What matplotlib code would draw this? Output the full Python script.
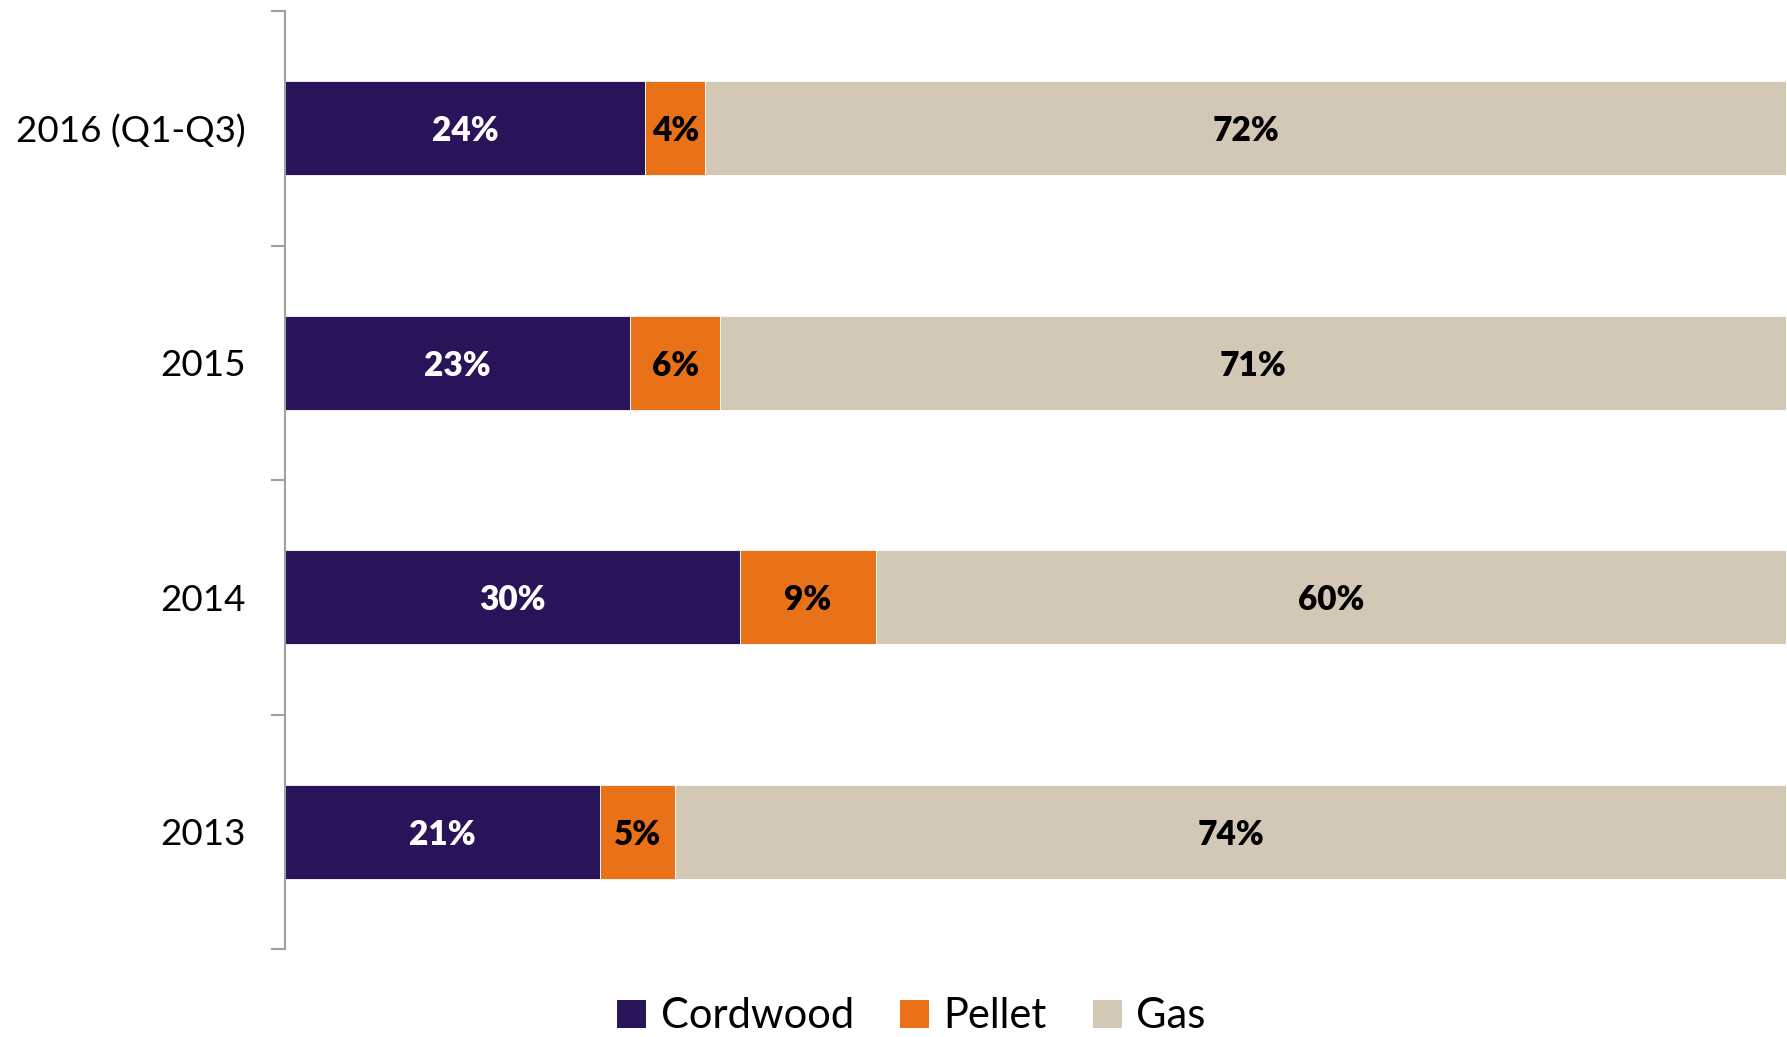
import numpy as np
import matplotlib.pyplot as plt
from matplotlib.patches import Patch

years = ['2016 (Q1-Q3)', '2015', '2014', '2013']
series = ['Cordwood', 'Pellet', 'Gas']
cordwood = [24, 23, 30, 21]
pellet = [4, 6, 9, 5]
gas = [72, 71, 60, 74]
colors = ['#2A1459', '#E97117', '#D3C7B5']
label_colors = ['white', 'black', 'black']

plt.rcParams['font.family'] = ['Lato', 'DejaVu Sans']

fig = plt.figure(figsize=(17.87, 10.37), dpi=100)
ax = fig.add_axes([285 / 1787, (1037 - 949) / 1037, 1501 / 1787, 938 / 1037])

data = np.array([cordwood, pellet, gas], dtype=float)
share = data / data.sum(axis=0)  # 100% stacked
y = np.arange(len(years))
left = np.zeros(len(years))
for i, name in enumerate(series):
    ax.barh(y, share[i], left=left, height=0.4, color=colors[i],
            edgecolor='white', linewidth=0.6, label=name)
    for j in range(len(years)):
        ax.text(left[j] + share[i][j] / 2, y[j], f'{int(data[i][j])}%',
                ha='center', va='center_baseline', fontsize=24,
                fontweight='heavy', color=label_colors[i])
    left += share[i]

ax.set_xlim(0, 1)
ax.set_ylim(len(years) - 0.5, -0.5)
ax.set_xticks([])

# tick marks on category boundaries, labels at centres
ax.set_yticks(np.arange(len(years) + 1) - 0.5)
ax.set_yticklabels([])
ax.tick_params(axis='y', which='major', length=10, width=1.5, color='#A0A0A0')
ax.set_yticks(y, minor=True)
ax.set_yticklabels(years, minor=True, fontsize=26.5)
ax.tick_params(axis='y', which='minor', length=0, pad=28)

for s in ['top', 'right', 'bottom']:
    ax.spines[s].set_visible(False)
ax.spines['left'].set_color('#A0A0A0')
ax.spines['left'].set_linewidth(1.5)

handles = [Patch(facecolor=c, label=n) for c, n in zip(colors, series)]
fig.legend(handles=handles, loc='center', bbox_to_anchor=(0.51, 0.02),
           ncol=3, frameon=False, fontsize=30, handlelength=0.7,
           handleheight=0.65, handletextpad=0.35, columnspacing=1.1)

fig.savefig('out.png', dpi=100)
